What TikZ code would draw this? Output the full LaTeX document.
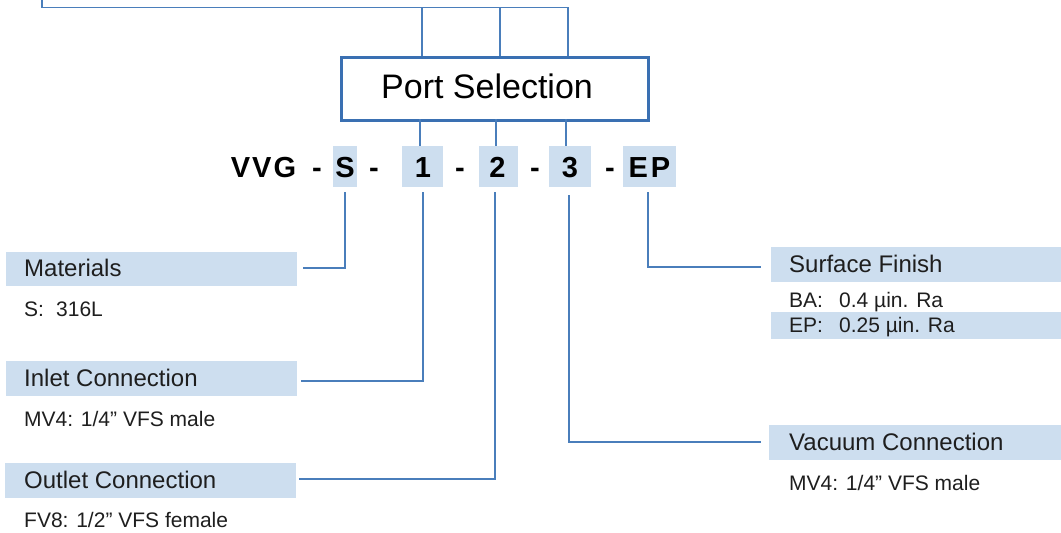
\documentclass[tikz,border=0pt]{standalone}
\usepackage{fontspec}
\setmainfont{Liberation Sans}
\definecolor{lineblue}{RGB}{74,126,187}
\definecolor{boxblue}{RGB}{58,112,178}
\definecolor{hlfill}{RGB}{205,222,239}
\definecolor{txt}{RGB}{30,30,30}
\tikzset{
  conn/.style={draw=lineblue, line width=1.4pt},
  hl/.style={fill=hlfill, draw=none, inner sep=0pt, anchor=north west},
  hdr/.style={font=\fontsize{24pt}{28pt}\selectfont, text=txt, anchor=base west, inner sep=0pt},
  sub/.style={font=\fontsize{21pt}{25pt}\selectfont, text=txt, anchor=base west, inner sep=0pt},
  code/.style={font=\fontsize{29pt}{33pt}\selectfont\bfseries, text=black, anchor=base, inner sep=0pt},
}
\begin{document}
\begin{tikzpicture}[x=1pt,y=-1pt]
\useasboundingbox (0,0) rectangle (1061,533);

% Port selection box
\node[draw=boxblue, line width=2.5pt, minimum width=307pt, minimum height=63pt, anchor=north west, inner sep=0pt] (port) at (340,56) {};
\node[font=\fontsize{34pt}{38pt}\selectfont, text=black, anchor=base west, inner sep=0pt] (porttxt) at (381,98) {Port Selection};

% top connectors
\coordinate (tA) at (42,0);
\coordinate (tB) at (568,7.5);
\coordinate (u1) at (422,7.5);
\coordinate (u2) at (500,7.5);
\draw[conn] (tA) |- (tB) -- (tB |- port.north);
\draw[conn] (u1) -- (u1 |- port.north);
\draw[conn] (u2) -- (u2 |- port.north);

% code highlights
\node[hl, minimum width=24pt, minimum height=41pt] (hS) at (333,146) {};
\node[hl, minimum width=41pt, minimum height=41pt] (h1) at (402,146) {};
\node[hl, minimum width=39pt, minimum height=41pt] (h2) at (479,146) {};
\node[hl, minimum width=42pt, minimum height=41pt] (h3) at (549,146) {};
\node[hl, minimum width=53pt, minimum height=41pt] (hEP) at (623,146) {};

% connectors port box -> 1,2,3
\coordinate (d1) at (420,119);
\coordinate (d2) at (496,119);
\coordinate (d3) at (566,119);
\draw[conn] (d1) -- (d1 |- h1.north);
\draw[conn] (d2) -- (d2 |- h2.north);
\draw[conn] (d3) -- (d3 |- h3.north);

% code text
\node[code] (vvg) at (263.5,177) {V\kern2pt V\kern2pt G};
\node[code] (m1) at (317,177) {-};
\node[code] (cS) at (345,177) {S};
\node[code] (m2) at (374,177) {-};
\node[code] (c1) at (423,177) {1};
\node[code] (m3) at (460,177) {-};
\node[code] (c2) at (497.5,177) {2};
\node[code] (m4) at (535,177) {-};
\node[code] (c3) at (570,177) {3};
\node[code] (m5) at (610,177) {-};
\node[code] (cEP) at (649.5,177) {E\kern3pt P};

% left labels
\node[hl, minimum width=291pt, minimum height=34pt] (matbar) at (6,252) {};
\node[hdr] (mat) at (24,276) {Materials};
\node[sub] (matv) at (24,316) {\makebox[32pt][l]{S:}316L};

\node[hl, minimum width=291pt, minimum height=35pt] (inbar) at (6,361) {};
\node[hdr] (inl) at (24,386) {Inlet Connection};
\node[sub] (inv) at (24,426) {MV4: 1/4” VFS male};

\node[hl, minimum width=291pt, minimum height=35pt] (outbar) at (5,463) {};
\node[hdr] (outl) at (24,488) {Outlet Connection};
\node[sub] (outv) at (24,527) {FV8: 1/2” VFS female};

% right labels
\node[hl, minimum width=290pt, minimum height=35pt] (sfbar) at (771,247) {};
\node[hdr] (sf) at (789,272) {Surface Finish};
\node[sub] (ba) at (789,307) {\makebox[50pt][l]{BA:}0.4 µin. Ra};
\node[hl, minimum width=290pt, minimum height=27pt] (epbar) at (771,312) {};
\node[sub] (ep) at (789,332) {\makebox[50pt][l]{EP:}0.25 µin. Ra};

\node[hl, minimum width=292pt, minimum height=35pt] (vcbar) at (769,425) {};
\node[hdr] (vc) at (789,450) {Vacuum Connection};
\node[sub] (vcv) at (789,490) {MV4: 1/4” VFS male};

% lower connectors
\coordinate (sS) at (345,192);
\coordinate (eS) at (303,268);
\draw[conn] (sS) |- (eS);
\coordinate (s1) at (423,192);
\coordinate (e1) at (301,381);
\draw[conn] (s1) |- (e1);
\coordinate (s2) at (495,192);
\coordinate (e2) at (299,479);
\draw[conn] (s2) |- (e2);
\coordinate (s3) at (569,195);
\coordinate (e3) at (761,442);
\draw[conn] (s3) |- (e3);
\coordinate (sEP) at (648,192);
\coordinate (eEP) at (761,267);
\draw[conn] (sEP) |- (eEP);
\end{tikzpicture}
\end{document}
